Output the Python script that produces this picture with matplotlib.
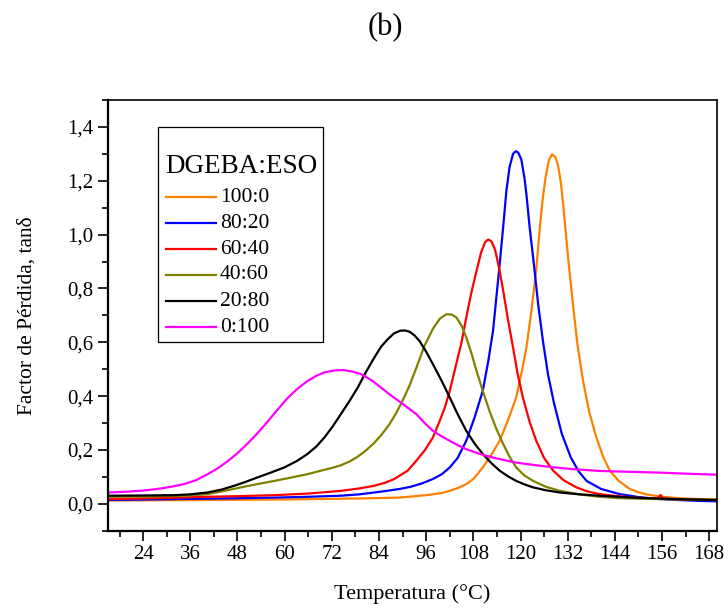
import matplotlib
matplotlib.use("Agg")
import matplotlib.pyplot as plt
from matplotlib.lines import Line2D
from matplotlib.patches import Rectangle
from matplotlib.ticker import MultipleLocator, FuncFormatter

plt.rcParams['font.family'] = ['Liberation Serif', 'DejaVu Serif']

# Loss factor (tan delta) versus temperature for each DGEBA:ESO ratio
t_100_0 = [15, 40, 60, 80, 89.2, 96, 100, 102, 104, 106.2, 108, 110.4, 112.5, 114.7,
           116.8, 118.9, 120.3, 121.5, 122.8, 124.0, 125.0, 125.7, 126.4, 127.2, 128.0,
           128.8, 129.5, 130.2, 130.8, 132.0, 133.3, 134.5, 135.9, 137.5, 139.3, 141.0,
           142.7, 145.0, 147.8, 150, 152, 155.4, 160, 165, 170]
tan_100_0 = [0.012, 0.014, 0.016, 0.020, 0.023, 0.032, 0.040, 0.048, 0.058, 0.073, 0.092,
             0.135, 0.180, 0.234, 0.310, 0.395, 0.490, 0.580, 0.720, 0.870, 1.040, 1.140,
             1.215, 1.275, 1.298, 1.290, 1.260, 1.200, 1.120, 0.930, 0.745, 0.590, 0.457,
             0.340, 0.246, 0.175, 0.123, 0.085, 0.055, 0.043, 0.035, 0.027, 0.021, 0.018,
             0.016]

t_80_20 = [15, 30, 45, 57.4, 66, 74.3, 79, 82.8, 86, 89.2, 92, 95, 97.7, 100, 102, 104,
           106.2, 108.3, 110.4, 111.8, 113.0, 114.7, 115.6, 116.4, 117.2, 118.1, 118.8,
           119.4, 120.2, 121.0, 121.5, 122.3, 123.4, 124.5, 125.7, 127.0, 128.5, 130.5,
           132.8, 134.8, 136.8, 140.5, 145.2, 150, 155, 160, 165, 170]
tan_80_20 = [0.014, 0.017, 0.020, 0.023, 0.026, 0.030, 0.035, 0.042, 0.048, 0.055, 0.063,
             0.076, 0.092, 0.110, 0.135, 0.170, 0.234, 0.320, 0.420, 0.530, 0.642, 0.890,
             1.030, 1.162, 1.250, 1.300, 1.310, 1.305, 1.280, 1.210, 1.150, 1.030, 0.890,
             0.740, 0.605, 0.480, 0.375, 0.260, 0.172, 0.120, 0.085, 0.055, 0.036, 0.025,
             0.018, 0.014, 0.011, 0.009]

t_60_40 = [15, 30, 40.4, 50, 57.4, 66, 74.3, 79, 82.8, 85.5, 87.9, 89.5, 91.3, 93.5, 95.7,
           97.7, 99.5, 100.8, 102.0, 103.5, 105.0, 106.2, 107.5, 108.8, 110.0, 111.0,
           111.8, 112.6, 113.5, 114.5, 115.6, 116.8, 118.1, 119.3, 120.6, 122.3, 124.0,
           126.0, 128.3, 131.0, 134.2, 137.0, 140.1, 144, 148, 152, 155, 155.6, 156.2,
           160, 165, 170]
tan_60_40 = [0.017, 0.022, 0.026, 0.029, 0.032, 0.038, 0.048, 0.057, 0.067, 0.078, 0.092,
             0.107, 0.123, 0.160, 0.200, 0.246, 0.310, 0.360, 0.420, 0.510, 0.600, 0.692,
             0.785, 0.865, 0.935, 0.972, 0.982, 0.975, 0.945, 0.880, 0.791, 0.685, 0.580,
             0.480, 0.395, 0.305, 0.234, 0.170, 0.123, 0.087, 0.061, 0.046, 0.036, 0.029,
             0.024, 0.021, 0.020, 0.033, 0.020, 0.017, 0.015, 0.014]

t_40_60 = [15, 25, 32, 36, 40.4, 44, 48.9, 53, 57.4, 61.5, 65.8, 70, 72, 74.3, 76.5, 78.5,
           80.5, 82.5, 84.5, 86.5, 88.3, 90.0, 91.7, 93.5, 95.5, 97.7, 99.5, 101.1, 102.5,
           103.7, 105.0, 106.2, 107.5, 108.8, 110.5, 112.1, 113.8, 115.6, 117.2, 118.9,
           121.0, 123.2, 126.5, 130.0, 135, 140.1, 145, 150, 160, 170]
tan_40_60 = [0.026, 0.027, 0.029, 0.031, 0.036, 0.046, 0.061, 0.073, 0.085, 0.097, 0.110,
             0.126, 0.133, 0.143, 0.157, 0.174, 0.196, 0.222, 0.254, 0.292, 0.335, 0.383,
             0.437, 0.505, 0.585, 0.650, 0.688, 0.704, 0.703, 0.692, 0.662, 0.618, 0.560,
             0.494, 0.415, 0.345, 0.280, 0.222, 0.175, 0.135, 0.105, 0.085, 0.063, 0.048,
             0.035, 0.026, 0.021, 0.019, 0.016, 0.014]

t_20_80 = [15, 25, 31.9, 36, 40.4, 44, 47.2, 50, 53.1, 56.5, 59.9, 63, 65.8, 68, 70.1, 72.2,
           74.3, 76.5, 78.6, 80.7, 82.8, 84.5, 86.2, 87.8, 89.4, 90.6, 91.8, 93.0, 94.3,
           96.0, 97.7, 100.0, 102.0, 104.0, 106.2, 108.3, 110.4, 112.5, 114.7, 116.8, 118.9,
           121.0, 123.2, 126.5, 130.0, 135, 140.1, 145, 150, 160, 170]
tan_20_80 = [0.030, 0.031, 0.032, 0.035, 0.042, 0.053, 0.067, 0.081, 0.098, 0.116, 0.135,
             0.158, 0.185, 0.212, 0.246, 0.287, 0.333, 0.382, 0.432, 0.490, 0.543, 0.583,
             0.611, 0.633, 0.643, 0.644, 0.639, 0.626, 0.605, 0.565, 0.519, 0.455, 0.395,
             0.333, 0.271, 0.224, 0.185, 0.152, 0.123, 0.102, 0.085, 0.072, 0.061, 0.050,
             0.042, 0.035, 0.030, 0.026, 0.022, 0.017, 0.014]

t_0_100 = [15, 20, 24, 27.6, 31, 34.4, 37.5, 40.4, 43, 45.5, 48, 50.6, 53.2, 55.7, 58.2,
           60.7, 63.3, 65.8, 68, 70.1, 72.5, 74.8, 77, 79.4, 82, 84.5, 86.8, 89.2, 91.3,
           93.5, 95.6, 97.7, 100, 102.0, 104, 106.2, 108.7, 111.3, 115, 118.9, 123, 127.4,
           133, 140.1, 147, 155, 162, 170]
tan_0_100 = [0.042, 0.045, 0.049, 0.055, 0.063, 0.073, 0.088, 0.110, 0.132, 0.158, 0.188,
             0.224, 0.264, 0.306, 0.350, 0.392, 0.428, 0.456, 0.475, 0.488, 0.495, 0.497,
             0.492, 0.482, 0.460, 0.432, 0.405, 0.380, 0.357, 0.333, 0.300, 0.271, 0.250,
             0.234, 0.218, 0.203, 0.190, 0.178, 0.165, 0.153, 0.145, 0.137, 0.129, 0.122,
             0.119, 0.116, 0.112, 0.108]

series_labels = ['100:0', '80:20', '60:40', '40:60', '20:80', '0:100']
series_colors = ['#FF8000', '#0000FF', '#FF0000', '#808000', '#000000', '#FF00FF']
series_t = [t_100_0, t_80_20, t_60_40, t_40_60, t_20_80, t_0_100]
series_tan = [tan_100_0, tan_80_20, tan_60_40, tan_40_60, tan_20_80, tan_0_100]

x_ticks = [24, 36, 48, 60, 72, 84, 96, 108, 120, 132, 144, 156, 168]
y_ticks = [0.0, 0.2, 0.4, 0.6, 0.8, 1.0, 1.2, 1.4]

W, H = 728, 610
fig = plt.figure(figsize=(W / 100, H / 100), dpi=100)
ax = fig.add_axes([0.148, 0.130, 0.837, 0.706])

for t, v, col in zip(series_t, series_tan, series_colors):
    ax.plot(t, v, color=col, lw=1.6, solid_joinstyle='round', solid_capstyle='round')

ax.set_xlim(15, 170)
ax.set_ylim(-0.1, 1.5)
ax.set_xticks(x_ticks)
ax.set_yticks(y_ticks)
ax.xaxis.set_minor_locator(MultipleLocator(6))
ax.yaxis.set_minor_locator(MultipleLocator(0.1))
ax.yaxis.set_major_formatter(FuncFormatter(lambda v, p: f"{v:.1f}".replace('.', ',')))

ax.tick_params(which='major', direction='out', length=7, width=1.2, labelsize=15,
               top=False, right=False)
ax.tick_params(which='minor', direction='out', length=4, width=1.2,
               top=False, right=False)
for side in ('left', 'bottom'):
    ax.spines[side].set_linewidth(1.6)
for side in ('top', 'right'):
    ax.spines[side].set_linewidth(1.2)

ax.set_xlabel('Temperatura (°C)', fontsize=16, labelpad=14)
ax.set_ylabel('Factor de Pérdida, tanδ', fontsize=15.5, labelpad=22)

fig.text(0.530, 0.954, '(b)', ha='center', va='center', fontsize=22)


# Legend box laid out in figure pixels
def fx(px):
    return px / W


def fy(py):
    return 1 - py / H


frame = Rectangle((fx(158), fy(342)), fx(323) - fx(158), fy(127) - fy(342),
                  transform=fig.transFigure, facecolor='white', edgecolor='black',
                  lw=0.9, zorder=5)
fig.add_artist(frame)
fig.text(fx(165), fy(167), 'DGEBA:ESO', ha='left', va='center', fontsize=19.5, zorder=6)
entry_rows = [197, 223, 249, 275, 301, 327]
for row, lab, col in zip(entry_rows, series_labels, series_colors):
    fig.add_artist(Line2D([fx(166), fx(216)], [fy(row), fy(row)], color=col, lw=1.6,
                          transform=fig.transFigure, zorder=6))
    fig.text(fx(220), fy(row), lab, ha='left', va='center', fontsize=15.5, zorder=6)

fig.savefig('out.png', dpi=100)
